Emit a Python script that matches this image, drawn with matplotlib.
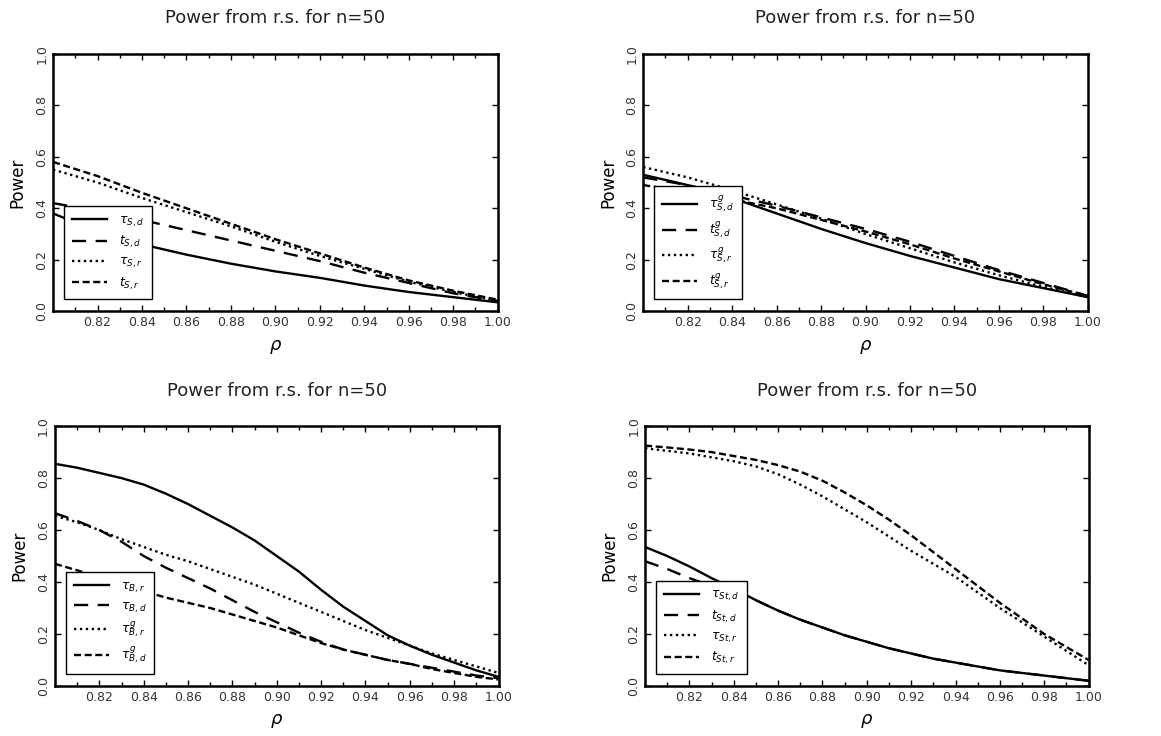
import matplotlib
matplotlib.use("Agg")
import matplotlib.pyplot as plt

# rho grids
rho = [0.80, 0.82, 0.84, 0.86, 0.88, 0.90, 0.92, 0.94, 0.96, 0.98, 1.00]
rho_fine = [0.80, 0.81, 0.82, 0.83, 0.84, 0.85, 0.86, 0.87, 0.88, 0.89, 0.90,
            0.91, 0.92, 0.93, 0.94, 0.95, 0.96, 0.97, 0.98, 0.99, 1.00]

# top-left panel
tau_s_d = [0.38, 0.31, 0.26, 0.22, 0.185, 0.155, 0.13, 0.10, 0.075, 0.055, 0.035]
t_s_d = [0.42, 0.39, 0.355, 0.315, 0.275, 0.235, 0.195, 0.15, 0.11, 0.07, 0.04]
tau_s_r = [0.55, 0.50, 0.44, 0.385, 0.33, 0.27, 0.215, 0.165, 0.115, 0.075, 0.04]
t_s_r = [0.58, 0.525, 0.46, 0.40, 0.34, 0.28, 0.225, 0.17, 0.12, 0.08, 0.045]

# top-right panel
tau_g_s_d = [0.53, 0.49, 0.44, 0.38, 0.32, 0.265, 0.215, 0.17, 0.125, 0.09, 0.055]
t_g_s_d = [0.52, 0.49, 0.45, 0.41, 0.365, 0.32, 0.27, 0.215, 0.16, 0.11, 0.06]
tau_g_s_r = [0.56, 0.52, 0.47, 0.415, 0.36, 0.30, 0.245, 0.19, 0.14, 0.095, 0.055]
t_g_s_r = [0.49, 0.465, 0.435, 0.40, 0.355, 0.31, 0.26, 0.205, 0.155, 0.105, 0.06]

# bottom-left panel (read on the fine grid)
tau_b_r = [0.855, 0.84, 0.82, 0.80, 0.775, 0.74, 0.70, 0.655, 0.61, 0.56, 0.50,
           0.44, 0.37, 0.305, 0.25, 0.195, 0.155, 0.12, 0.09, 0.06, 0.035]
tau_b_d = [0.665, 0.635, 0.60, 0.555, 0.50, 0.455, 0.415, 0.375, 0.33, 0.285, 0.245,
           0.205, 0.17, 0.14, 0.12, 0.10, 0.085, 0.07, 0.055, 0.04, 0.03]
tau_g_b_r = [0.655, 0.63, 0.60, 0.565, 0.535, 0.505, 0.48, 0.45, 0.42, 0.39, 0.355,
             0.32, 0.285, 0.25, 0.215, 0.185, 0.155, 0.125, 0.10, 0.075, 0.05]
tau_g_b_d = [0.47, 0.445, 0.42, 0.39, 0.365, 0.34, 0.32, 0.30, 0.275, 0.25, 0.225,
             0.195, 0.165, 0.14, 0.12, 0.10, 0.085, 0.065, 0.05, 0.035, 0.025]

# bottom-right panel (read on the fine grid)
tau_st_d = [0.535, 0.50, 0.46, 0.415, 0.375, 0.33, 0.29, 0.255, 0.225, 0.195, 0.17,
            0.145, 0.125, 0.105, 0.09, 0.075, 0.06, 0.05, 0.04, 0.03, 0.02]
t_st_d = [0.48, 0.45, 0.415, 0.385, 0.37, 0.33, 0.29, 0.255, 0.225, 0.195, 0.17,
          0.145, 0.125, 0.105, 0.09, 0.075, 0.06, 0.05, 0.04, 0.03, 0.02]
tau_st_r = [0.915, 0.905, 0.895, 0.88, 0.865, 0.845, 0.815, 0.775, 0.73, 0.68, 0.63,
            0.575, 0.52, 0.47, 0.42, 0.36, 0.30, 0.245, 0.19, 0.135, 0.08]
t_st_r = [0.925, 0.918, 0.91, 0.90, 0.885, 0.87, 0.85, 0.825, 0.79, 0.745, 0.695,
          0.64, 0.58, 0.515, 0.45, 0.385, 0.32, 0.26, 0.20, 0.15, 0.10]

xticks = [0.82, 0.84, 0.86, 0.88, 0.90, 0.92, 0.94, 0.96, 0.98, 1.00]
yticks = [0.0, 0.2, 0.4, 0.6, 0.8, 1.0]

styles = [
    dict(linestyle='-'),
    dict(linestyle=(0, (6, 4))),
    dict(linestyle=(0, (1, 1.5))),
    dict(linestyle=(0, (3, 1.5))),
]

fig = plt.figure(figsize=(11.61, 7.36), dpi=100)

panels = [
    ([0.0457, 0.577, 0.383, 0.350], rho, [tau_s_d, t_s_d, tau_s_r, t_s_r],
     [r'$\tau_{S,d}$', r'$t_{S,d}$', r'$\tau_{S,r}$', r'$t_{S,r}$']),
    ([0.554, 0.577, 0.383, 0.350], rho, [tau_g_s_d, t_g_s_d, tau_g_s_r, t_g_s_r],
     [r'$\tau^{g}_{S,d}$', r'$t^{g}_{S,d}$', r'$\tau^{g}_{S,r}$', r'$t^{g}_{S,r}$']),
    ([0.0474, 0.068, 0.382, 0.353], rho_fine, [tau_b_r, tau_b_d, tau_g_b_r, tau_g_b_d],
     [r'$\tau_{B,r}$', r'$\tau_{B,d}$', r'$\tau^{g}_{B,r}$', r'$\tau^{g}_{B,d}$']),
    ([0.5556, 0.068, 0.382, 0.353], rho_fine, [tau_st_d, t_st_d, tau_st_r, t_st_r],
     [r'$\tau_{St,d}$', r'$t_{St,d}$', r'$\tau_{St,r}$', r'$t_{St,r}$']),
]

for rect, xs, series, labels in panels:
    ax = fig.add_axes(rect)
    for ys, st, lab in zip(series, styles, labels):
        ax.plot(xs, ys, color='black', linewidth=1.7, label=lab, **st)
    ax.set_xlim(0.80, 1.00)
    ax.set_ylim(0.0, 1.0)
    ax.set_xticks(xticks)
    ax.set_xticklabels(['%.2f' % v for v in xticks], fontsize=9, color='#333333')
    ax.set_xticks([0.80 + 0.01 * i for i in range(21)], minor=True)
    ax.set_yticks(yticks)
    ax.set_yticklabels(['%.1f' % v for v in yticks], fontsize=9, color='#333333',
                       rotation=90, va='center')
    ax.tick_params(which='both', direction='in', top=True, right=True, length=4, width=1)
    ax.tick_params(which='minor', length=3)
    for sp in ax.spines.values():
        sp.set_linewidth(1.8)
    ax.set_title('Power from r.s. for n=50', fontsize=13, pad=22, color='#222222')
    ax.set_ylabel('Power', fontsize=12, labelpad=6)
    ax.set_xlabel(r'$\rho$', fontsize=13, labelpad=6)
    leg = ax.legend(loc='lower left', bbox_to_anchor=(0.025, 0.047), borderaxespad=0,
                    fontsize=9, handlelength=2.8, labelspacing=0.4, fancybox=False,
                    framealpha=1, edgecolor='black', borderpad=0.6, handletextpad=1.0)
    leg.get_frame().set_linewidth(1.0)

fig.savefig('out.png', dpi=100)
